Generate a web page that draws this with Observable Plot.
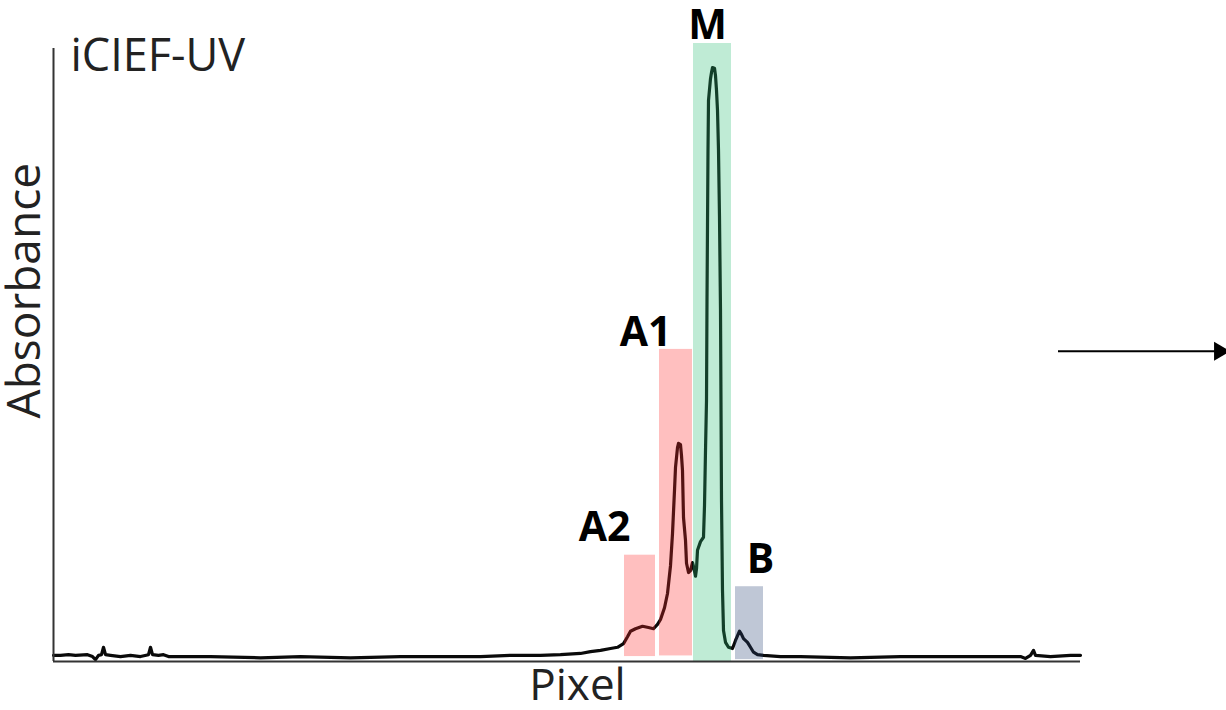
<!DOCTYPE html>
<html>
<head>
<meta charset="utf-8">
<script src="https://cdn.jsdelivr.net/npm/d3@7"></script>
<script src="https://cdn.jsdelivr.net/npm/@observablehq/plot@0.6"></script>
<style>
  html, body { margin: 0; padding: 0; background: #fff; }
  svg { display: block; }
</style>
</head>
<body>
<script>
// Trace (pixel index vs absorbance, arbitrary units)
const tracePixel = [0,7,15,22,34,39,42,45,48,50,52,57,67,77,87,95,97,99,105,110,115,157,207,247,297,347,387,427,457,487,507,527,537,547,557,564,570,574,577,582,589,595,600,604,607,611,614,617,619,621,622,624,625,627,628,629,630,632,633,635,637,639,640,642,643,644,647,650,651,652,653,653.5,654.5,655,657,658,659,661,662,663,664,665,666,667,668,669,670,672,675,679,682,686,688,690,694,697,700,704,710,727,747,797,847,897,947,967,972,977,980,982,997,1017,1027];
const traceAbs   = [1.0,1.0,1.1,1.0,1.1,0.8,0.3,1.0,1.1,2.3,1.1,1.0,0.8,1.0,0.8,1.1,2.3,1.1,1.0,1.1,0.8,0.8,0.6,0.8,0.6,0.8,0.8,0.8,1.0,1.0,1.1,1.3,1.6,1.8,2.1,2.3,2.9,4.0,4.9,5.3,5.7,5.5,5.3,6.0,6.8,8.7,11.0,15.5,20.7,27.7,31.4,34.6,35.3,35.1,33.3,30.9,23.3,19.6,15.9,14.4,14.7,16.0,15.4,13.8,15.0,18.0,19.4,20.1,25.2,34.1,42.2,58.4,82.7,90.8,94.3,95.3,96.1,96.0,94.8,92.4,89.2,82.7,71.8,56.8,26.1,11.5,5.0,3.1,2.3,2.1,3.4,4.9,4.4,3.7,3.1,2.3,1.5,1.1,1.0,0.8,0.8,0.6,0.8,0.8,0.8,0.8,0.5,1.0,1.8,1.0,0.8,1.0,1.0];

// Highlighted peak regions
const regionNames = ["A2", "A1", "M", "B"];
const regionStart = [571, 606, 640, 682];
const regionEnd   = [602, 639, 678, 710];
const regionLow   = [0.8, 0.9, 0.0, 0.3];
const regionHigh  = [17.2, 50.5, 100, 12.1];
const regionColors = ["#ff2a2a", "#ff2a2a", "#2abc73", "#2a4476"];

// Region labels
const labelX = [551, 592, 654, 707];
const labelY = [21.7, 53.2, 102.8, 16.5];

// Axis extents and annotations
const xDomain = [0, 1027];
const yDomain = [0, 100];
const yAxisTop = 99.2;
const titleText = "iCIEF-UV";
const titlePos = {x: 17, y: 97.9};
const yLabelText = "Absorbance";
const yLabelPos = {x: -28, y: 60};
const xLabelText = "Pixel";
const xLabelPos = {x: 524, y: -4.0};
const arrowY = 50.2;
const arrowX1 = 1005;
const arrowX2 = 1166;

const trace = tracePixel.map((p, i) => ({pixel: p, abs: traceAbs[i]}));
const regions = regionNames.map((n, i) => ({
  name: n, x1: regionStart[i], x2: regionEnd[i], y1: regionLow[i], y2: regionHigh[i], color: regionColors[i],
  lx: labelX[i], ly: labelY[i]
}));

const chart = Plot.plot({
  width: 1226,
  height: 710,
  marginLeft: 53,
  marginRight: 146,
  marginTop: 43,
  marginBottom: 49,
  x: {domain: xDomain, axis: null},
  y: {domain: yDomain, axis: null},
  style: {background: "#fff", overflow: "visible"},
  marks: [
    Plot.line(trace, {x: "pixel", y: "abs", stroke: "#0a0a0a", strokeWidth: 3.2, strokeLinejoin: "round", strokeLinecap: "round"}),
    Plot.rect(regions, {x1: "x1", x2: "x2", y1: "y1", y2: "y2", fill: "color", fillOpacity: 0.3}),
    Plot.ruleX([0], {y1: 0, y2: yAxisTop, stroke: "#333", strokeWidth: 2}),
    Plot.ruleY([0], {x1: xDomain[0], x2: xDomain[1], stroke: "#333", strokeWidth: 2}),
    Plot.text(regions, {x: "lx", y: "ly", text: "name", fontFamily: "Open Sans", fontWeight: "bold", fontSize: 41, fill: "#000"}),
    Plot.text([titleText], {x: titlePos.x, y: titlePos.y, text: d => d, textAnchor: "start", fontFamily: "Open Sans", fontSize: 45, fill: "#222"}),
    Plot.text([yLabelText], {x: yLabelPos.x, y: yLabelPos.y, text: d => d, rotate: -90, fontFamily: "Open Sans", fontSize: 46, fill: "#222"}),
    Plot.text([xLabelText], {x: xLabelPos.x, y: xLabelPos.y, text: d => d, fontFamily: "Open Sans", fontSize: 44, fill: "#222"}),
    Plot.ruleY([arrowY], {x1: arrowX1, x2: arrowX2, stroke: "#000", strokeWidth: 2}),
    Plot.dot([arrowY], {x: arrowX2, y: d => d, symbol: "triangle", rotate: 90, r: 7, fill: "#000", stroke: "none"})
  ]
});
document.body.appendChild(chart);
</script>
</body>
</html>
